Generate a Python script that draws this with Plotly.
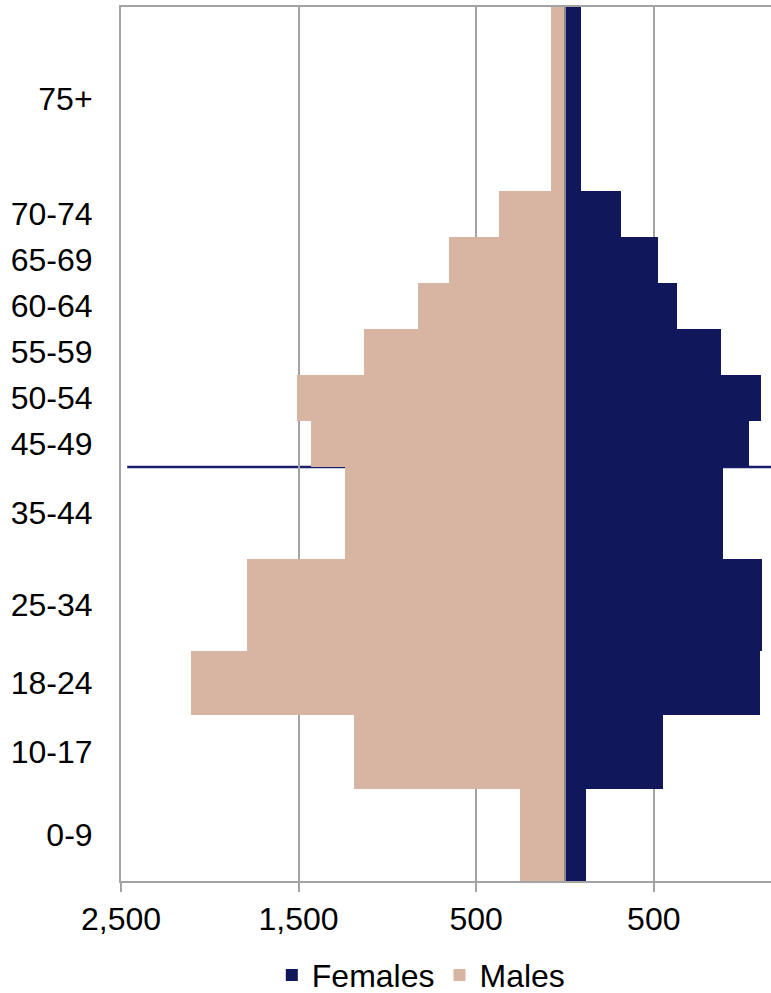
import plotly.graph_objects as go

# Age bands (lower bound inclusive, upper bound exclusive, in years)
age_labels = ["0-9", "10-17", "18-24", "25-34", "35-44", "45-49",
              "50-54", "55-59", "60-64", "65-69", "70-74", "75+"]
age_start = [0, 10, 18, 25, 35, 45, 50, 55, 60, 65, 70, 75]
age_end = [10, 18, 25, 35, 45, 50, 55, 60, 65, 70, 75, 95]

# Population counts per age band
males = [253, 1189, 2104, 1789, 1239, 1429, 1509, 1129, 825, 652, 371, 80]
females = [120, 553, 1097, 1110, 889, 1037, 1104, 879, 632, 521, 317, 88]

# Reference age marked across the pyramid
median_age = 45

x_tick_vals = [-2500, -1500, -500, 500]
x_tick_text = ["2,500", "1,500", "500", "500"]

FEMALE_COLOR = "#10175A"
MALE_COLOR = "#D8B4A2"
GRID_COLOR = "#A3A3A3"
FONT = "Arial, Liberation Sans, sans-serif"

mid = [(a + b) / 2 for a, b in zip(age_start, age_end)]
span = [b - a for a, b in zip(age_start, age_end)]

fig = go.Figure()
fig.add_trace(go.Bar(
    name="Females", orientation="h",
    y=mid, x=females, width=span,
    marker=dict(color=FEMALE_COLOR, line=dict(width=0)),
))
fig.add_trace(go.Bar(
    name="Males", orientation="h",
    y=mid, x=[-v for v in males], width=span,
    marker=dict(color=MALE_COLOR, line=dict(width=0)),
))

# Marker line at the reference age, behind the bars
fig.add_shape(type="line", xref="x", yref="y",
              x0=-2465, x1=1160, y0=median_age, y1=median_age,
              line=dict(color="#1B1F6B", width=2.5), layer="below")
# Centre divider between the two halves
fig.add_shape(type="line", xref="x", yref="y",
              x0=0, x1=0, y0=0, y1=95,
              line=dict(color="#8A8A8A", width=2), layer="above")

fig.update_layout(
    width=771, height=993,
    margin=dict(l=121, r=0, t=7, b=112, autoexpand=False),
    paper_bgcolor="white", plot_bgcolor="white",
    barmode="overlay", bargap=0,
    font=dict(family=FONT, size=32, color="#000000"),
    showlegend=True,
    legend=dict(orientation="h", x=0.462, xanchor="center",
                yref="container", y=0.018, yanchor="middle",
                font=dict(size=32), traceorder="normal"),
)

fig.update_xaxes(
    range=[-2500, 1160],
    tickvals=x_tick_vals, ticktext=x_tick_text,
    showgrid=True, gridcolor=GRID_COLOR, gridwidth=2,
    zeroline=False,
    showline=True, linecolor=GRID_COLOR, linewidth=2, mirror=True,
    ticks="outside", ticklen=9, tickcolor=GRID_COLOR, tickwidth=2,
    tickfont=dict(size=32),
)
fig.update_yaxes(
    range=[0, 95],
    tickvals=mid, ticktext=age_labels,
    showgrid=False, zeroline=False,
    showline=True, linecolor=GRID_COLOR, linewidth=2,
    ticks="", ticklabelstandoff=20,
    tickfont=dict(size=32),
)

fig.write_html("out.html")
